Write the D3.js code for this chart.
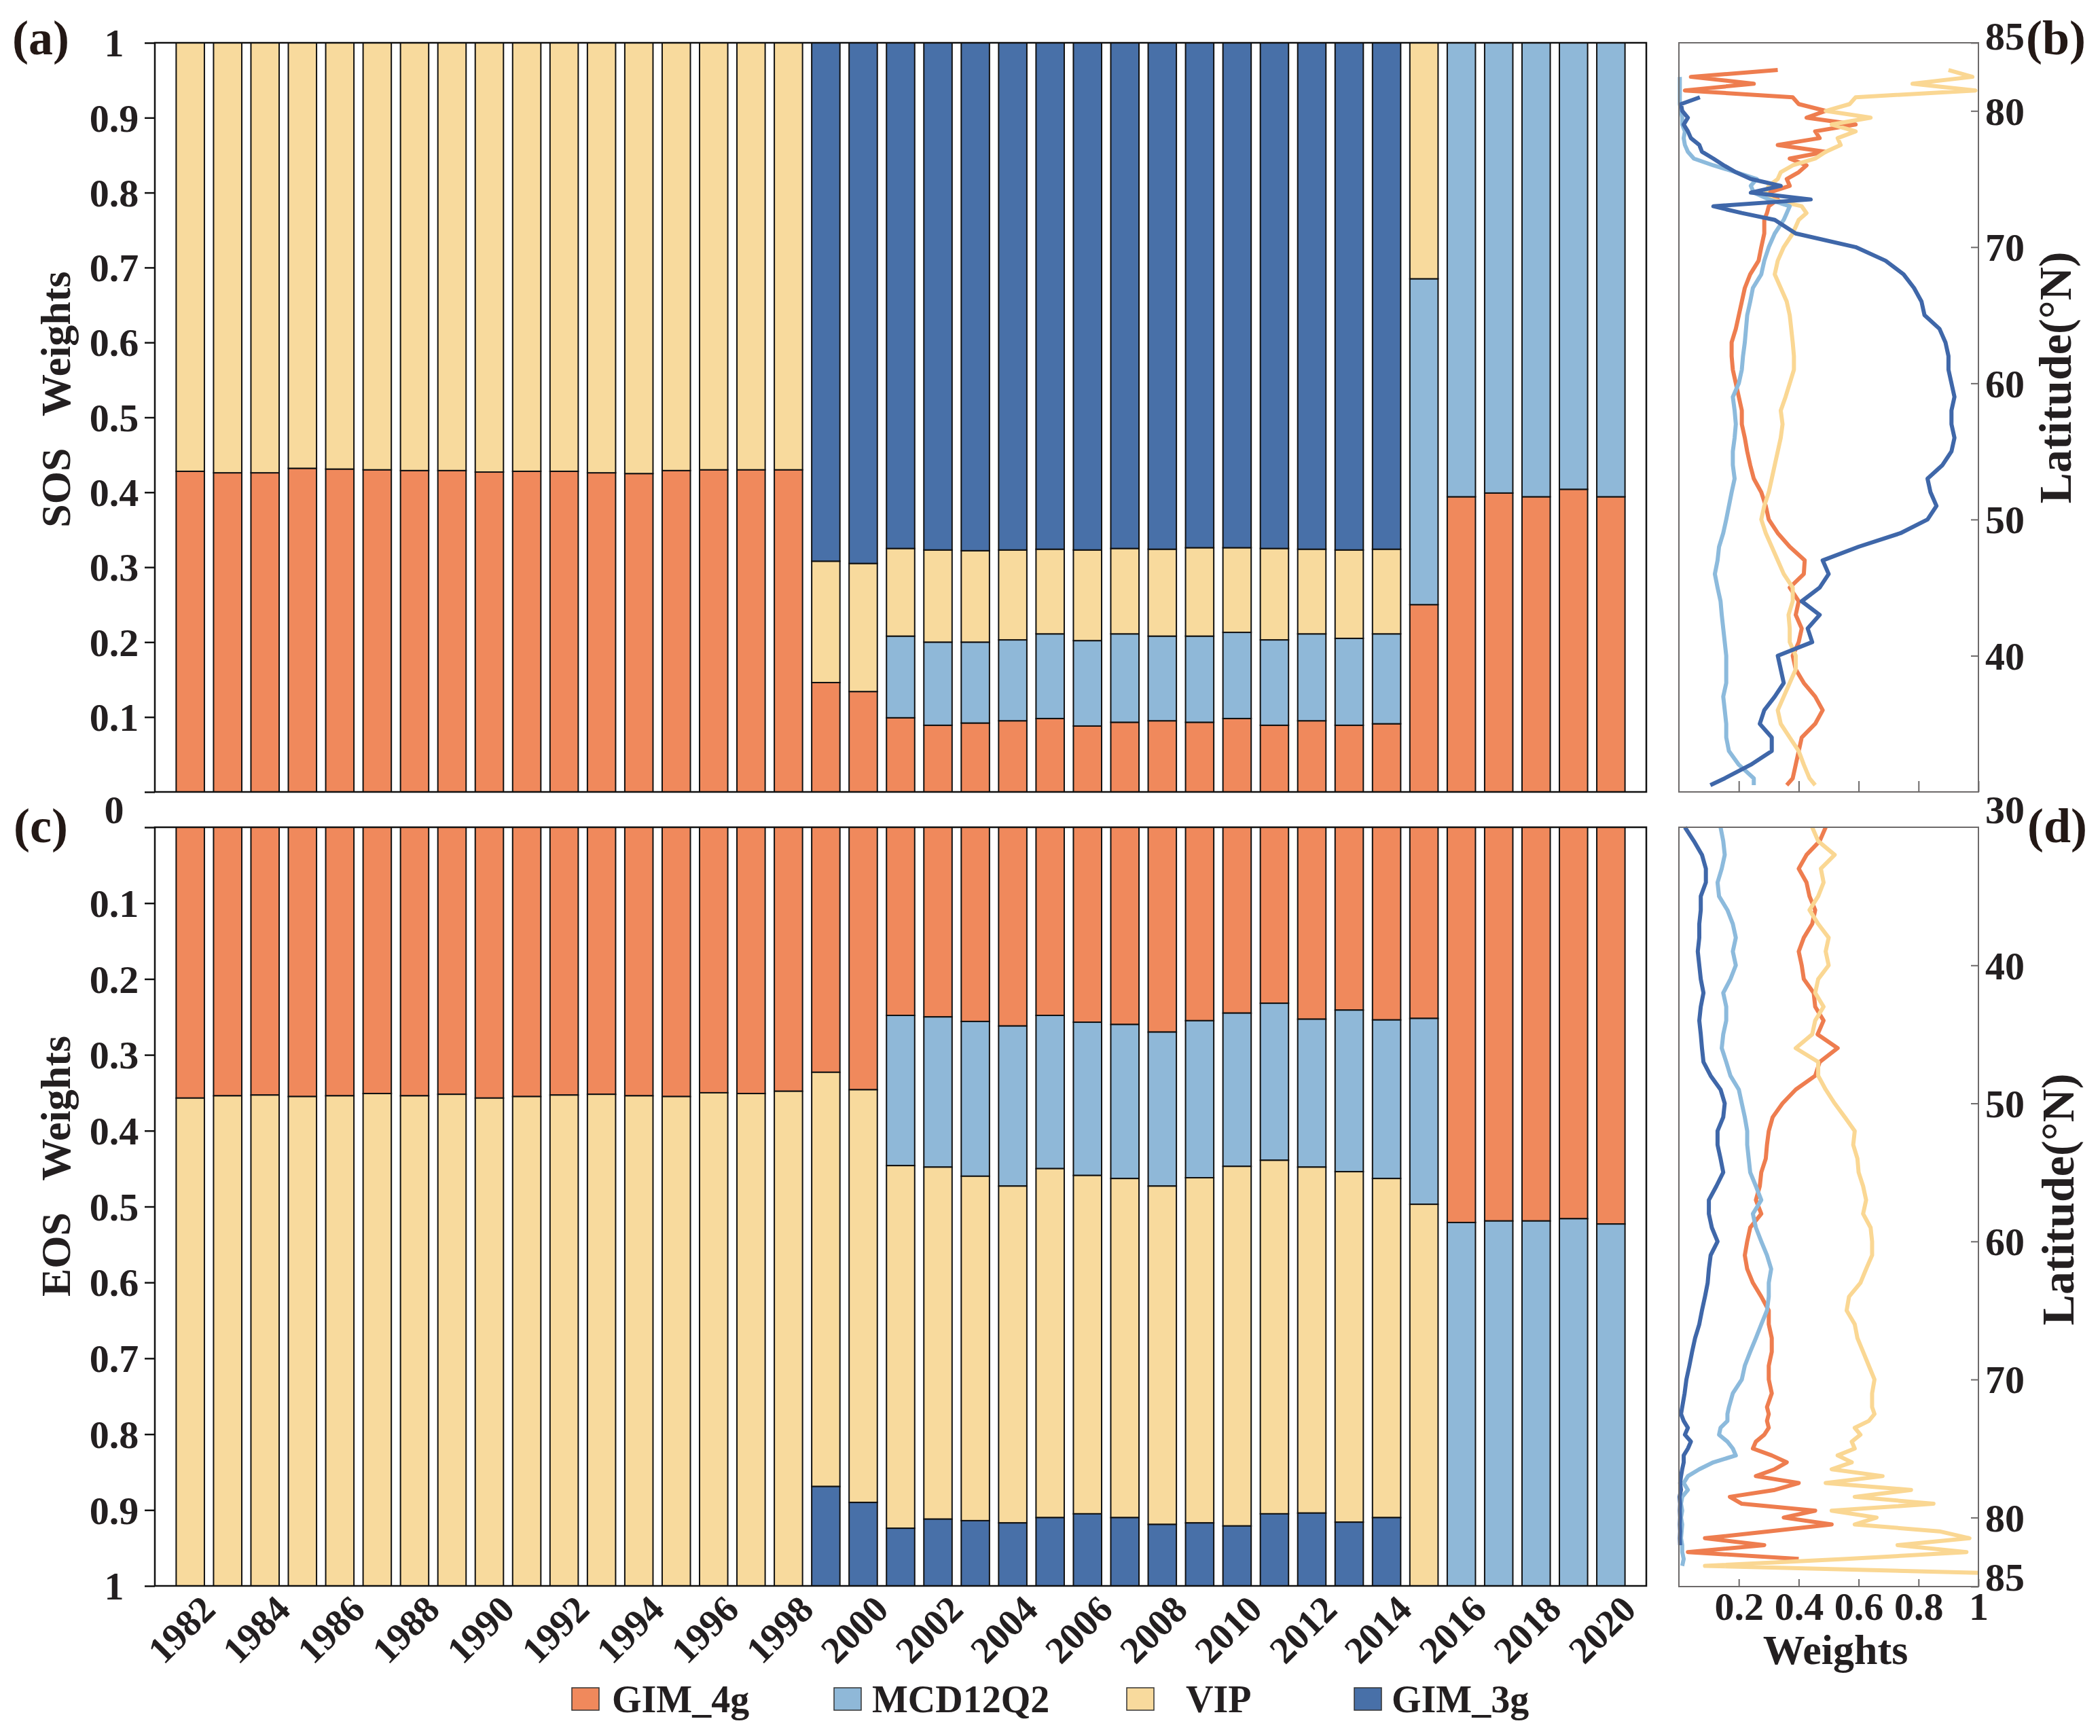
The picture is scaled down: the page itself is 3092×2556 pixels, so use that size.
<!DOCTYPE html>
<html>
<head>
<meta charset="utf-8">
<script src="https://cdn.jsdelivr.net/npm/d3@7"></script>
<style>
  body { margin: 0; background: #fff; }
  text { font-family: "Liberation Serif", "Times New Roman", serif; font-weight: bold; fill: #231f20; }
</style>
</head>
<body>
<svg id="fig" width="3092" height="2556"></svg>
<script>
// ---- data ----
var years = [1982,1983,1984,1985,1986,1987,1988,1989,1990,1991,1992,1993,1994,1995,1996,1997,1998,1999,2000,
             2001,2002,2003,2004,2005,2006,2007,2008,2009,2010,2011,2012,2013,2014,2015,2016,2017,2018,2019,2020];
var yearLabels = [1982,1984,1986,1988,1990,1992,1994,1996,1998,2000,2002,2004,2006,2008,2010,2012,2014,2016,2018,2020];
var keys = ["GIM_4g", "MCD12Q2", "VIP", "GIM_3g"];

// SOS weights (panel a)
var sosGIM4g = [0.428,0.426,0.426,0.432,0.431,0.430,0.429,0.429,0.427,0.428,0.428,0.426,0.425,0.429,0.430,0.430,0.430,
                0.146,0.134,
                0.099,0.089,0.092,0.095,0.098,0.088,0.093,0.095,0.093,0.098,0.089,0.095,0.089,0.091,
                0.250,
                0.394,0.399,0.394,0.404,0.394];
var sosMCD = [0,0,0,0,0,0,0,0,0,0,0,0,0,0,0,0,0,
              0,0,
              0.109,0.111,0.108,0.108,0.113,0.114,0.118,0.113,0.115,0.115,0.114,0.116,0.116,0.120,
              0.435,
              0.606,0.601,0.606,0.596,0.606];
var sosVIP = [0.572,0.574,0.574,0.568,0.569,0.570,0.571,0.571,0.573,0.572,0.572,0.574,0.575,0.571,0.570,0.570,0.570,
              0.162,0.171,
              0.117,0.123,0.122,0.120,0.113,0.121,0.114,0.116,0.118,0.113,0.122,0.113,0.118,0.113,
              0.315,
              0,0,0,0,0];
var sosGIM3g = [0,0,0,0,0,0,0,0,0,0,0,0,0,0,0,0,0,
                0.692,0.695,
                0.675,0.677,0.678,0.677,0.676,0.677,0.675,0.676,0.674,0.674,0.675,0.676,0.677,0.676,
                0,
                0,0,0,0,0];

// EOS weights (panel c)
var eosGIM4g = [0.357,0.354,0.353,0.355,0.354,0.351,0.354,0.352,0.357,0.355,0.353,0.352,0.354,0.355,0.350,0.351,0.348,
                0.323,0.346,
                0.248,0.250,0.256,0.262,0.248,0.257,0.260,0.270,0.255,0.245,0.232,0.253,0.241,0.254,
                0.252,
                0.521,0.519,0.519,0.516,0.523];
var eosMCD = [0,0,0,0,0,0,0,0,0,0,0,0,0,0,0,0,0,
              0,0,
              0.198,0.198,0.204,0.211,0.202,0.202,0.203,0.203,0.207,0.202,0.207,0.195,0.213,0.209,
              0.245,
              0.479,0.481,0.481,0.484,0.477];
var eosVIP = [0.643,0.646,0.647,0.645,0.646,0.649,0.646,0.648,0.643,0.645,0.647,0.648,0.646,0.645,0.650,0.649,0.652,
              0.546,0.544,
              0.478,0.464,0.454,0.444,0.460,0.446,0.447,0.446,0.455,0.474,0.466,0.456,0.462,0.447,
              0.503,
              0,0,0,0,0];
var eosGIM3g = [0,0,0,0,0,0,0,0,0,0,0,0,0,0,0,0,0,
                0.131,0.110,
                0.076,0.088,0.086,0.083,0.090,0.095,0.090,0.081,0.083,0.079,0.095,0.096,0.084,0.090,
                0,
                0,0,0,0,0];

var weightTicks = [0,0.1,0.2,0.3,0.4,0.5,0.6,0.7,0.8,0.9,1];

// latitude profiles (panel b, SOS)
var latB = [30.5,31,32,33,34,35,36,37,38,39,40,41,42,43,44,45,46,47,48,49,50,51,52,53,54,55,56,57,58,59,60,
            61,62,63,64,65,66,67,68,69,70,71,72,72.5,73,73.5,74,74.5,75,75.5,76,76.5,77,77.5,78,78.5,79,79.5,
            80,80.5,81,81.5,82,82.5,83];
var bGIM4g = [0.36,0.38,0.39,0.40,0.41,0.455,0.48,0.455,0.417,0.39,0.38,0.40,0.41,0.39,0.40,0.37,0.417,0.42,0.37,0.33,0.30,
              0.29,0.275,0.25,0.238,0.228,0.22,0.21,0.21,0.20,0.19,0.18,0.176,0.176,0.19,0.20,0.21,0.22,0.238,0.266,0.275,
              0.285,0.285,0.294,0.30,0.33,0.30,0.37,0.36,0.40,0.426,0.37,0.49,0.33,0.47,0.455,0.59,0.426,0.49,0.40,0.38,
              0.02,0.25,0.04,0.33];
var bMCD = [0.25,0.25,0.20,0.167,0.158,0.158,0.153,0.148,0.158,0.158,0.158,0.153,0.148,0.143,0.139,0.129,0.12,0.129,0.134,0.148,0.158,
            0.167,0.176,0.186,0.18,0.18,0.186,0.19,0.186,0.18,0.20,0.21,0.214,0.22,0.224,0.228,0.238,0.247,0.275,0.285,0.30,
            0.32,0.35,0.36,0.37,0.30,0.25,0.24,0.26,0.19,0.115,0.05,0.03,0.02,0.016,0.02,0.011,0.011,0.007,0.003,0.003,
            0.003,0.003,0.003,null];
var bVIP = [0.455,0.436,0.417,0.40,0.37,0.34,0.33,0.35,0.37,0.39,0.39,0.37,0.37,0.366,0.38,0.38,0.35,0.33,0.31,0.29,0.275,
            0.285,0.30,0.31,0.32,0.33,0.34,0.346,0.34,0.356,0.37,0.384,0.384,0.38,0.375,0.37,0.36,0.34,0.32,0.33,0.35,
            0.38,0.40,0.426,0.41,0.31,0.29,0.30,0.33,0.34,0.38,0.455,0.49,0.54,0.53,0.59,0.51,0.64,0.49,0.57,0.59,
            0.99,0.78,0.98,0.90];
var bGIM3g = [0.105,0.153,0.24,0.31,0.31,0.27,0.285,0.32,0.35,0.34,0.33,0.445,0.43,0.47,0.41,0.47,0.50,0.48,0.60,0.74,0.83,
              0.86,0.84,0.83,0.88,0.91,0.92,0.91,0.91,0.92,0.91,0.90,0.90,0.89,0.87,0.82,0.81,0.785,0.75,0.69,0.59,
              0.39,0.32,0.21,0.115,0.44,0.24,0.34,0.24,0.19,0.15,0.115,0.077,0.068,0.04,0.03,0.016,0.03,0.011,0.007,0.07,
              null,null,null,null];

// latitude profiles (panel d, EOS)
var latD = [30,31,32,33,34,35,36,37,38,39,40,41,42,43,44,45,46,47,48,49,50,51,52,53,54,55,56,57,58,59,60,
            61,62,63,64,65,66,67,68,69,70,71,72,72.5,73,73.5,74,74.5,75,75.5,76,76.5,77,77.5,78,78.5,79,79.5,
            80,80.5,81,81.5,82,82.5,83,83.5,84];
var dGIM4g = [0.49,0.47,0.426,0.40,0.426,0.436,0.455,0.445,0.417,0.40,0.41,0.417,0.45,0.455,0.483,0.463,0.53,0.47,0.455,0.39,0.346,
              0.313,0.30,0.294,0.29,0.275,0.27,0.257,0.275,0.238,0.228,0.22,0.228,0.247,0.275,0.30,0.30,0.31,0.31,0.30,0.30,
              0.31,0.294,0.30,0.294,0.30,0.285,0.257,0.247,0.31,0.36,0.32,0.257,0.40,0.32,0.17,0.21,0.455,0.35,0.51,0.30,
              0.087,0.285,0.03,0.40,null,null];
var dMCD = [0.139,0.148,0.153,0.143,0.129,0.134,0.162,0.18,0.19,0.18,0.19,0.172,0.148,0.158,0.158,0.148,0.143,0.158,0.172,0.20,0.21,
            0.22,0.228,0.228,0.233,0.238,0.257,0.275,0.247,0.257,0.275,0.294,0.308,0.30,0.30,0.294,0.275,0.257,0.238,0.22,0.21,
            0.18,0.167,0.162,0.162,0.139,0.134,0.162,0.18,0.19,0.115,0.068,0.03,0.016,0.03,0.011,0.007,0.011,0.007,0.011,0.009,
            0.007,0.011,0.011,0.016,0.011,null];
var dVIP = [0.445,0.465,0.52,0.474,0.483,0.465,0.436,0.465,0.50,0.49,0.50,0.465,0.455,0.483,0.455,0.445,0.39,0.465,0.465,0.49,0.52,
            0.554,0.587,0.582,0.596,0.60,0.615,0.625,0.615,0.64,0.645,0.645,0.625,0.606,0.568,0.56,0.587,0.596,0.615,0.634,0.653,
            0.645,0.645,0.653,0.634,0.587,0.606,0.577,0.587,0.53,0.577,0.51,0.68,0.49,0.775,0.587,0.85,0.51,0.66,0.587,0.87,
            0.97,0.73,0.96,0.56,0.087,1.0];
var dGIM3g = [0.02,0.05,0.077,0.09,0.09,0.073,0.073,0.068,0.068,0.063,0.068,0.073,0.082,0.073,0.068,0.073,0.077,0.082,0.106,0.139,0.153,
              0.148,0.129,0.129,0.139,0.148,0.125,0.10,0.10,0.11,0.129,0.106,0.10,0.096,0.087,0.077,0.068,0.054,0.044,0.035,0.025,
              0.019,0.011,0.007,0.016,0.03,0.02,0.04,0.03,0.016,0.016,0.011,0.007,0.004,0.007,0.002,0.004,0.003,0.004,0.003,0.004,
              0.003,0.004,null,null,null,null];

var latTicks = [40,50,60,70,80,85];
var profileTicks = [0.2,0.4,0.6,0.8,1];

// ---- style ----
var barColor = {GIM_4g: "#F0895C", MCD12Q2: "#8FB8D8", VIP: "#F8DA9D", GIM_3g: "#4870A8"};
var lineColor = {GIM_4g: "#EE7D4F", MCD12Q2: "#8CBADC", VIP: "#FAD793", GIM_3g: "#3F67A9"};
var tickFont = 58;

var svg = d3.select("#fig");

// ---- scales ----
var barLeft = 228, barRight = 2424;
var xBar = d3.scaleBand().domain(years).range([barLeft, barRight]).paddingInner(0.245).paddingOuter(0.57);
var ySOS = d3.scaleLinear().domain([0, 1]).range([1166, 63]);
var yEOS = d3.scaleLinear().domain([0, 1]).range([1218, 2335]);

var xW = d3.scaleLinear().domain([0, 1]).range([2472, 2913]);
var yB = d3.scaleLinear().domain([30, 85]).range([1166, 63]);
var yD = d3.scaleLinear().domain([30, 85]).range([1218, 2336]);

function rows(g4, mcd, vip, g3) {
    return years.map(function(y, i) {
        return {year: y, GIM_4g: g4[i], MCD12Q2: mcd[i], VIP: vip[i], GIM_3g: g3[i]};
    });
}

function barPanel(data, y) {
    var series = d3.stack().keys(keys)(data);
    var g = svg.append("g");
    series.forEach(function(s) {
        g.selectAll(null)
            .data(s.filter(function(d) { return d[1] - d[0] > 0; }))
            .enter()
            .append("rect")
            .attr("x", function(d) { return xBar(d.data.year); })
            .attr("width", xBar.bandwidth())
            .attr("y", function(d) { return Math.min(y(d[0]), y(d[1])); })
            .attr("height", function(d) { return Math.abs(y(d[1]) - y(d[0])); })
            .attr("fill", barColor[s.key])
            .attr("stroke", "#111")
            .attr("stroke-width", 2);
    });
    // frame
    svg.append("rect")
        .attr("x", barLeft).attr("y", Math.min(y(0), y(1)))
        .attr("width", barRight - barLeft).attr("height", Math.abs(y(1) - y(0)))
        .attr("fill", "none").attr("stroke", "#111").attr("stroke-width", 2.5);
    // y axis
    var ax = svg.append("g")
        .attr("transform", "translate(" + barLeft + ",0)")
        .call(d3.axisLeft(y).tickValues(weightTicks).tickSize(15).tickPadding(6)
            .tickFormat(function(d) { return d === 0 ? "" : d3.format("~g")(d); }));
    ax.select(".domain").remove();
    ax.selectAll(".tick line").attr("stroke", "#111").attr("stroke-width", 2.5);
    ax.selectAll(".tick text")
        .attr("x", -60).attr("text-anchor", "middle").attr("dy", "0.34em")
        .attr("font-size", tickFont).attr("fill", "#231f20");
}

barPanel(rows(sosGIM4g, sosMCD, sosVIP, sosGIM3g), ySOS);
barPanel(rows(eosGIM4g, eosMCD, eosVIP, eosGIM3g), yEOS);

// shared zero label between (a) and (c)
svg.append("text")
    .attr("x", barLeft - 60).attr("y", (ySOS(0) + yEOS(0)) / 2)
    .attr("dy", "0.34em").attr("text-anchor", "middle")
    .attr("font-size", tickFont).text("0");

// year labels
svg.append("g").selectAll("text")
    .data(yearLabels)
    .enter()
    .append("text")
    .attr("transform", function(d) {
        return "translate(" + (xBar(d) + xBar.bandwidth() / 2 + 40) + "," + (yEOS(1) + 38) + ") rotate(-45)";
    })
    .attr("text-anchor", "end")
    .attr("font-size", 56)
    .text(function(d) { return d; });

// y titles
svg.append("text")
    .attr("transform", "translate(103," + 588 + ") rotate(-90)")
    .attr("text-anchor", "middle").attr("font-size", 62)
    .text("SOS\u00a0\u00a0\u00a0Weights");
svg.append("text")
    .attr("transform", "translate(103," + 1717 + ") rotate(-90)")
    .attr("text-anchor", "middle").attr("font-size", 62)
    .text("EOS\u00a0\u00a0\u00a0Weights");

// ---- latitude profile panels ----
function profilePanel(lat, series, y, showLabels, tickLen) {
    var g = svg.append("g");
    var line = d3.line()
        .defined(function(d) { return d[1] != null; })
        .x(function(d) { return xW(d[1]); })
        .y(function(d) { return y(d[0]); });
    series.forEach(function(s) {
        g.append("path")
            .datum(d3.zip(lat, s.values))
            .attr("fill", "none")
            .attr("stroke", lineColor[s.key])
            .attr("stroke-width", 6)
            .attr("stroke-linejoin", "round")
            .attr("d", line);
    });
    var top = Math.min(y(30), y(85)), bot = Math.max(y(30), y(85));
    svg.append("rect")
        .attr("x", xW(0)).attr("y", top)
        .attr("width", xW(1) - xW(0)).attr("height", bot - top)
        .attr("fill", "none").attr("stroke", "#6d6a6a").attr("stroke-width", 2);
    // right latitude axis
    var ay = svg.append("g")
        .attr("transform", "translate(" + xW(1) + ",0)")
        .call(d3.axisRight(y).tickValues(latTicks).tickSize(-11).tickPadding(10));
    ay.select(".domain").remove();
    ay.selectAll(".tick line").attr("stroke", "#6d6a6a").attr("stroke-width", 2);
    ay.selectAll(".tick text")
        .attr("font-size", tickFont).attr("fill", "#231f20")
        .attr("dy", function(d) { return d === 85 ? (y(85) < y(30) ? "0.17em" : "0.1em") : "0.34em"; });
    // bottom weight axis
    var ax = svg.append("g")
        .attr("transform", "translate(0," + bot + ")")
        .call(d3.axisBottom(xW).tickValues(profileTicks).tickSize(-tickLen).tickPadding(8)
            .tickFormat(showLabels ? d3.format("~g") : ""));
    ax.select(".domain").remove();
    ax.selectAll(".tick line").attr("stroke", "#6d6a6a").attr("stroke-width", 2);
    ax.selectAll(".tick text").attr("font-size", tickFont).attr("fill", "#231f20");
}

profilePanel(latB, [
    {key: "GIM_4g", values: bGIM4g},
    {key: "VIP", values: bVIP},
    {key: "MCD12Q2", values: bMCD},
    {key: "GIM_3g", values: bGIM3g}
], yB, false, 16);

profilePanel(latD, [
    {key: "GIM_4g", values: dGIM4g},
    {key: "VIP", values: dVIP},
    {key: "MCD12Q2", values: dMCD},
    {key: "GIM_3g", values: dGIM3g}
], yD, true, 11);

// shared 30 label
svg.append("text")
    .attr("x", xW(1) + 10).attr("y", (yB(30) + yD(30)) / 2)
    .attr("dy", "0.34em").attr("font-size", tickFont).text("30");

svg.append("text")
    .attr("x", (xW(0) + xW(1)) / 2 + 10).attr("y", 2450)
    .attr("text-anchor", "middle").attr("font-size", 62).text("Weights");

svg.append("text")
    .attr("transform", "translate(3049," + 556 + ") rotate(-90)")
    .attr("text-anchor", "middle").attr("font-size", 68).text("Latitude(°N)");
svg.append("text")
    .attr("transform", "translate(3053," + 1766 + ") rotate(-90)")
    .attr("text-anchor", "middle").attr("font-size", 68).text("Latitude(°N)");

// ---- panel letters ----
var letters = [["(a)", 18, 80], ["(b)", 2983, 80], ["(c)", 20, 1240], ["(d)", 2985, 1240]];
svg.selectAll(".letter")
    .data(letters)
    .enter()
    .append("text")
    .attr("class", "letter")
    .attr("x", function(d) { return d[1]; })
    .attr("y", function(d) { return d[2]; })
    .attr("font-size", 72)
    .style("fill", "#231815")
    .text(function(d) { return d[0]; });

// ---- legend ----
var legendX = [842, 1228, 1659, 1994];
var legendGap = [59, 56, 87, 55];
var legend = svg.append("g").selectAll("g")
    .data(keys)
    .enter()
    .append("g")
    .attr("transform", function(d, i) { return "translate(" + legendX[i] + ",2485)"; });
legend.append("rect")
    .attr("width", 40).attr("height", 33)
    .attr("fill", function(d) { return barColor[d]; })
    .attr("stroke", "#333").attr("stroke-width", 1.5);
legend.append("text")
    .attr("x", function(d, i) { return legendGap[i]; })
    .attr("y", 17).attr("dy", "0.34em")
    .attr("font-size", 56)
    .text(function(d) { return d; });
</script>
</body>
</html>
